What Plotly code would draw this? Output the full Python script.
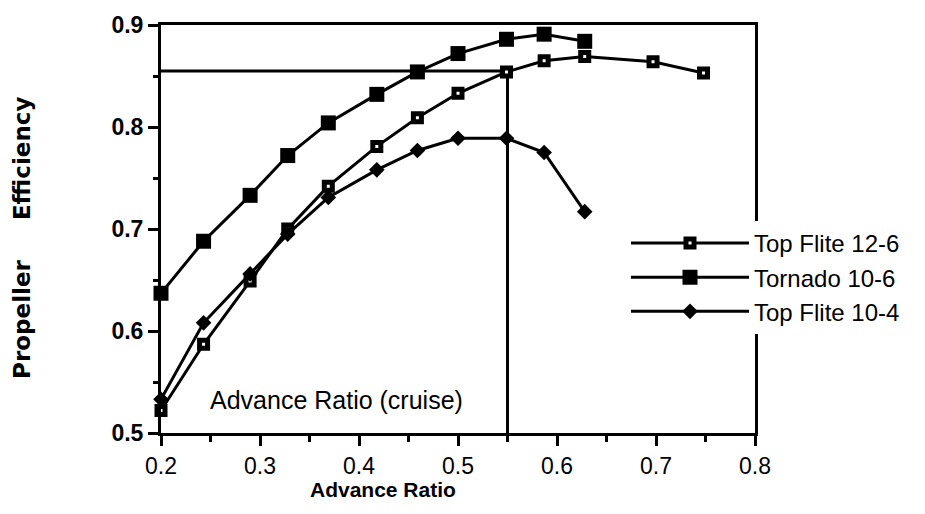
import plotly.graph_objects as go

# ---------------- data ----------------
advance_ratio = [0.200, 0.243, 0.290, 0.328, 0.369, 0.418, 0.459,
                 0.500, 0.549, 0.587, 0.628, 0.697, 0.748]
eff_top_flite_12_6 = [0.522, 0.587, 0.649, 0.700, 0.742, 0.781, 0.809,
                      0.833, 0.854, 0.865, 0.869, 0.864, 0.853]
eff_tornado_10_6 = [0.637, 0.688, 0.733, 0.772, 0.804, 0.832, 0.854,
                    0.872, 0.886, 0.891, 0.884]
eff_top_flite_10_4 = [0.533, 0.608, 0.656, 0.695, 0.731, 0.758, 0.777,
                      0.789, 0.789, 0.775, 0.717]
series_names = ["Top Flite 12-6", "Tornado 10-6", "Top Flite 10-4"]

cruise_ratio = 0.55
cruise_efficiency = 0.855
cruise_label = "Advance Ratio (cruise)"

x_tick_vals = [0.2, 0.3, 0.4, 0.5, 0.6, 0.7, 0.8]
x_tick_text = ["0.2", "0.3", "0.4", "0.5", "0.6", "0.7", "0.8"]
y_tick_vals = [0.5, 0.6, 0.7, 0.8, 0.9]
y_tick_text = ["0.5", "0.6", "0.7", "0.8", "0.9"]
x_title = "Advance Ratio"
y_title = "Propeller\u00a0\u00a0\u00a0\u00a0 Efficiency"

x_range = [0.2, 0.8]
y_range = [0.5, 0.9]

# ---------------- figure ----------------
fig = go.Figure()

BLACK = "#000000"

# cruise reference lines
fig.add_trace(go.Scatter(
    x=[x_range[0], cruise_ratio, cruise_ratio],
    y=[cruise_efficiency, cruise_efficiency, y_range[0]],
    mode="lines", line=dict(color=BLACK, width=3),
    showlegend=False, hoverinfo="skip", cliponaxis=False))

fig.add_trace(go.Scatter(
    x=advance_ratio[:len(eff_top_flite_12_6)], y=eff_top_flite_12_6,
    name=series_names[0], legendgroup="a", mode="lines+markers",
    line=dict(color=BLACK, width=3),
    marker=dict(symbol="square", size=8, color="white",
                line=dict(color=BLACK, width=5)),
    cliponaxis=False))

fig.add_trace(go.Scatter(
    x=advance_ratio[:len(eff_tornado_10_6)], y=eff_tornado_10_6,
    name=series_names[1], legendgroup="b", mode="lines+markers",
    line=dict(color=BLACK, width=3),
    marker=dict(symbol="square", size=15, color=BLACK),
    cliponaxis=False))

fig.add_trace(go.Scatter(
    x=advance_ratio[:len(eff_top_flite_10_4)], y=eff_top_flite_10_4,
    name=series_names[2], legendgroup="c", mode="lines+markers",
    line=dict(color=BLACK, width=3),
    marker=dict(symbol="diamond", size=12, color=BLACK),
    cliponaxis=False))

FONT = "Liberation Sans, Arial, sans-serif"

fig.update_layout(
    width=925, height=514,
    margin=dict(l=161, r=170, t=21, b=81),
    paper_bgcolor="white", plot_bgcolor="white",
    font=dict(family=FONT, color=BLACK),
    showlegend=True,
    legend=dict(
        x=(626 - 161) / 594, xanchor="left", y=0.52, yanchor="top",
        bgcolor="white", borderwidth=0,
        font=dict(family=FONT, size=24, color=BLACK),
        itemwidth=118, tracegroupgap=0, traceorder="grouped",
    ),
    xaxis=dict(
        range=x_range, showgrid=False, zeroline=False,
        showline=True, linecolor=BLACK, linewidth=3, mirror=True,
        ticks="outside", ticklen=10, tickwidth=3, tickcolor=BLACK,
        tickvals=x_tick_vals, ticktext=x_tick_text,
        tickfont=dict(family=FONT, size=23, color=BLACK),
        minor=dict(ticks="outside", ticklen=6, tickwidth=3,
                   tickcolor=BLACK, dtick=0.05, tick0=0.2, showgrid=False),
    ),
    yaxis=dict(
        range=y_range, showgrid=False, zeroline=False,
        showline=True, linecolor=BLACK, linewidth=3, mirror=True,
        ticks="outside", ticklen=10, tickwidth=3, tickcolor=BLACK,
        tickvals=y_tick_vals, ticktext=y_tick_text,
        tickfont=dict(family=FONT, size=23, color=BLACK, weight="bold"),
        minor=dict(ticks="outside", ticklen=5, tickwidth=3,
                   tickcolor=BLACK, dtick=0.05, tick0=0.5, showgrid=False),
    ),
    annotations=[
        dict(text=cruise_label, x=0.247, y=0.532, xref="x", yref="y",
             xanchor="left", yanchor="middle", showarrow=False,
             font=dict(family=FONT, size=25, color=BLACK)),
        dict(text=x_title, x=(383 - 161) / 594, y=-0.138, xref="paper",
             yref="paper", xanchor="center", yanchor="middle",
             showarrow=False,
             font=dict(family=FONT, size=21, color=BLACK, weight="bold")),
        dict(text=y_title, x=(22 - 161) / 594, y=(433 - 236) / 412,
             xref="paper", yref="paper",
             xanchor="center", yanchor="middle", textangle=-90,
             showarrow=False,
             font=dict(family="DejaVu Sans, sans-serif", size=23,
                       color=BLACK, weight="bold")),
    ],
)

fig.write_html("out.html")
